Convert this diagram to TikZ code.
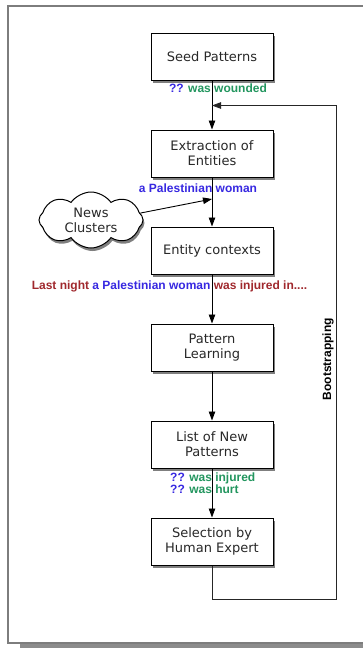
\documentclass[tikz,border=0pt]{standalone}
\usepackage{fontspec}
\setmainfont{DejaVu Sans}
\newfontfamily\tagfont{Liberation Sans}
\usepackage{xcolor}
\usepackage{tikz}
\usetikzlibrary{shapes.symbols, arrows.meta, positioning, shadows}
\definecolor{framegray}{RGB}{125, 125, 125}
\definecolor{boxtext}{RGB}{40, 40, 40}
\definecolor{entityblue}{RGB}{55, 40, 225}
\definecolor{patterngreen}{RGB}{35, 150, 95}
\definecolor{contextred}{RGB}{160, 40, 45}

\begin{document}
\begin{tikzpicture}[
    x=1pt, y=-1pt,
    node distance=49pt,
    stage/.style={draw, line width=1pt, fill=white, minimum width=122pt,
                  minimum height=47pt, align=center, text=boxtext,
                  font=\fontsize{13}{15}\selectfont,
                  drop shadow={shadow xshift=1.5pt, shadow yshift=-3pt, fill=black, opacity=0.5}},
    tag/.style={font=\tagfont\bfseries\fontsize{12}{12.5}\selectfont, inner sep=0pt},
    flow/.style={line width=0.9pt, -{Triangle[length=9pt, width=6.5pt]}},
    loopline/.style={line width=0.8pt, draw=black!85, -{Triangle[length=9pt, width=6.5pt]}}
]
    \useasboundingbox (0,0) rectangle (362,648);
    % frame with its shadow
    \fill[black!45] (20,643.5) rectangle (375,649);
    \draw[framegray, line width=1.3pt, fill=white] (8,6) rectangle (375,643);

    \node[stage] (seed) at (212,56.5) {Seed Patterns};
    \node[stage, below=of seed] (extract) {Extraction of\\Entities};
    \node[stage, below=of extract] (context) {Entity contexts};
    \node[stage, below=of context] (learn) {Pattern\\Learning};
    \node[stage, below=of learn] (newpat) {List of New\\Patterns};
    \node[stage, below=of newpat] (select) {Selection by\\Human Expert};

    \node[cloud, cloud puffs=8, cloud puff arc=110, aspect=1.9, draw, line width=1pt, fill=white,
          minimum width=104pt, minimum height=56pt, inner sep=0pt, align=center,
          text=boxtext, font=\fontsize{13}{15}\selectfont,
          drop shadow={shadow xshift=1.5pt, shadow yshift=-3pt, fill=black, opacity=0.5}]
          (news) at (91,220) {News\\Clusters};

    % example strings
    \node[tag, anchor=north] (wounded) at ([xshift=6pt, yshift=-3pt]seed.south)
        {\textcolor{entityblue}{??} \textcolor{patterngreen}{was wounded}};
    \node[tag, anchor=north] (woman) at ([xshift=-14pt, yshift=-6pt]extract.south)
        {\textcolor{entityblue}{a Palestinian woman}};
    \node[tag, anchor=north] (sentence) at ([xshift=-42.5pt, yshift=-6pt]context.south)
        {\textcolor{contextred}{Last night} \textcolor{entityblue}{a Palestinian woman}
         \textcolor{contextred}{was injured in....}};
    \node[tag, anchor=north west, align=left] (found) at ([xshift=-42pt, yshift=-4pt]newpat.south)
        {\textcolor{entityblue}{??} \textcolor{patterngreen}{was injured}\\
         \textcolor{entityblue}{??} \textcolor{patterngreen}{was hurt}};
    \node[tag, rotate=90] (boot) at (328,359) {Bootstrapping};

    \draw[flow] (seed) -- (extract);
    \draw[flow] (extract) -- (context);
    \draw[flow] (context) -- (learn);
    \draw[flow] (learn) -- (newpat);
    \draw[flow] (newpat) -- (select);

    \coordinate (hit) at ([yshift=-21.5pt]extract.south);
    \draw[flow] (news.8) -- (hit);

    \coordinate (loopcorner) at (336,599);
    \coordinate (entry) at ([yshift=-25pt]seed.south);
    \draw[loopline] (select.south) |- (loopcorner) |- (entry);
\end{tikzpicture}
\end{document}
